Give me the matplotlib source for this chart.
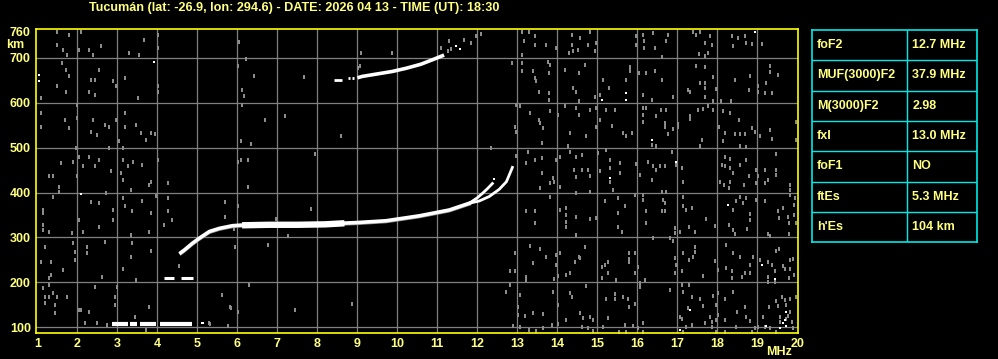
import matplotlib
matplotlib.use('Agg')
import matplotlib.pyplot as plt
import numpy as np

plt.rcParams['font.family'] = ['Liberation Sans', 'DejaVu Sans']

titulo = 'Tucumán (lat: -26.9, lon: 294.6) - DATE: 2026 04 13 - TIME (UT): 18:30'

x_ticks = list(range(1, 21))
y_ticks = [100, 200, 300, 400, 500, 600, 700, 760]

# traza F (ordinaria + extraordinaria)
f_F = [4.59, 4.68, 4.88, 5.05, 5.30, 5.55, 5.88, 6.22, 7.0, 8.0, 8.47, 9.0, 9.72, 10.55, 11.30, 11.80]
h_F = [266, 272, 287, 298, 313, 320, 326, 328, 328, 329, 331, 333, 337, 348, 361, 376]
f_F_core = [6.2, 6.8, 7.5, 8.2, 8.6]
h_F_core = [327, 328, 328, 329, 331]
f_F_x = [11.80, 12.05, 12.30, 12.55, 12.73, 12.82, 12.88]
h_F_x = [376, 381, 391, 407, 424, 443, 456]
f_F_o = [11.80, 12.00, 12.13, 12.25, 12.38]
h_F_o = [376, 388, 398, 408, 420]

# segundo salto 2F
f_2F = [9.05, 9.13, 9.47, 9.88, 10.22, 10.59, 10.88, 11.13]
h_2F = [657, 659, 664, 670, 677, 686, 696, 705]
tramos_2F = [(8.43, 8.62), (8.76, 8.82), (8.87, 8.93)]
h_tramos_2F = [652, 655, 655]

# Es y 2Es
tramos_Es = [(2.87, 3.27), (3.32, 3.49), (3.57, 3.96), (4.07, 4.86)]
h_Es = 106
tramos_2Es = [(4.17, 4.41), (4.59, 4.90)]
h_2Es = 210

# tabla de parametros
tabla_nombres = ['foF2', 'MUF(3000)F2', 'M(3000)F2', 'fxI', 'foF1', 'ftEs', "h'Es"]
tabla_valores = ['12.7 MHz', '37.9 MHz', '2.98', '13.0 MHz', 'NO', '5.3 MHz', '104 km']

# ruido (ecos dispersos) en (MHz, km)
ruido_gris = [
    (1.48, 759), (1.78, 752), (1.48, 730), (1.63, 717), (1.73, 707), (1.62, 689), (1.72, 674),
    (1.80, 659), (1.48, 637), (1.72, 625), (2.05, 718), (2.28, 718), (2.38, 707), (2.58, 726),
    (2.08, 759), (2.55, 674), (2.34, 651), (2.45, 651), (2.30, 625), (2.45, 618), (3.18, 655),
    (2.97, 637), (2.88, 648), (3.55, 707), (3.30, 711), (3.68, 741), (4.03, 752), (4.03, 722),
    (4.03, 637), (4.03, 625), (3.53, 610), (1.08, 610), (1.08, 577), (1.08, 547), (1.70, 562),
    (1.78, 544), (1.98, 596), (1.98, 566), (2.38, 562), (2.34, 536), (2.48, 529), (2.68, 551),
    (2.78, 547), (2.97, 562), (3.18, 577), (3.18, 547), (3.48, 551), (3.59, 532), (3.72, 517),
    (3.84, 532), (3.95, 531), (3.03, 514), (1.97, 499), (2.05, 480), (2.28, 480), (1.59, 465),
    (1.88, 469), (2.13, 458), (2.45, 459), (2.53, 473), (2.78, 499), (3.15, 499), (3.15, 473),
    (3.26, 459), (3.40, 469), (3.63, 462), (4.03, 473), (1.30, 436), (1.38, 436), (1.53, 413),
    (1.98, 436), (2.85, 447), (3.10, 443), (3.13, 428), (3.80, 417), (3.84, 424), (4.28, 421),
    (3.98, 393), (3.34, 406), (2.72, 398), (1.55, 401), (1.38, 391), (1.13, 361), (1.13, 355),
    (2.34, 378), (2.55, 376), (2.88, 361), (3.13, 387), (3.18, 369), (3.38, 358), (3.63, 380),
    (3.84, 354), (4.28, 387), (4.28, 358), (4.38, 339), (4.18, 328), (5.70, 378), (5.70, 346),
    (5.92, 318), (1.13, 328), (1.13, 317), (1.30, 311), (1.87, 309), (2.05, 339), (2.13, 311),
    (2.55, 324), (2.88, 339), (3.33, 305), (3.80, 311), (1.88, 287), (2.23, 279), (2.23, 265),
    (1.95, 268), (1.20, 279), (2.68, 289), (3.38, 287), (3.34, 257), (3.84, 270), (1.10, 244),
    (1.33, 244), (1.63, 227), (1.95, 250), (1.33, 216), (1.30, 209), (2.62, 212), (3.13, 230),
    (3.48, 204), (4.55, 235), (1.13, 186), (1.28, 194), (1.18, 168), (1.28, 168), (1.18, 153),
    (1.38, 175), (1.50, 168), (1.73, 168), (1.43, 149), (1.43, 131), (2.10, 138), (2.43, 190),
    (2.98, 190), (2.93, 168), (2.93, 149), (2.30, 134), (2.48, 108), (2.18, 108), (2.05, 138),
    (3.80, 144), (3.45, 123), (2.75, 105), (3.72, 93), (5.63, 172), (5.84, 143), (5.78, 102),
    (5.30, 108), (5.82, 144), (6.03, 134), (7.44, 138), (8.88, 151), (5.33, 107), (5.78, 103),
    (6.78, 283), (6.29, 194), (7.28, 302), (5.94, 279),
    (6.05, 735), (6.23, 698), (6.03, 683), (6.43, 660), (6.13, 629), (6.18, 616), (6.13, 596),
    (6.69, 562), (7.19, 571), (7.68, 657), (9.09, 712), (9.88, 712), (9.08, 683), (9.03, 677),
    (8.59, 526), (6.09, 514), (6.34, 509), (6.09, 473), (6.28, 473), (6.03, 469), (7.94, 486),
    (6.28, 413), (6.03, 369), (7.84, 363), (6.98, 340), (12.34, 499), (11.30, 739), (11.68, 741),
    (11.84, 733), (11.98, 748), (12.09, 754), (11.09, 722), (11.26, 715), (11.34, 720),
    (13.13, 759), (13.30, 759), (13.17, 737), (13.44, 730), (13.73, 730), (13.13, 707),
    (13.44, 748), (13.98, 722), (14.38, 752), (14.57, 744), (14.38, 730), (14.83, 759),
    (14.78, 730), (14.98, 733), (14.94, 715), (14.40, 715), (14.30, 712), (14.53, 717),
    (12.88, 689), (13.13, 689), (13.13, 670), (13.40, 670), (13.78, 692), (13.82, 685),
    (13.80, 666), (13.44, 655), (13.48, 648), (13.55, 625), (13.80, 622), (13.80, 607),
    (14.19, 674), (14.55, 666), (14.69, 685), (14.40, 633), (14.48, 625), (14.55, 603),
    (14.94, 614), (15.07, 618), (15.15, 651), (15.30, 633), (15.73, 651), (15.83, 681),
    (15.83, 670), (16.05, 666), (16.22, 666), (16.15, 618), (15.98, 748), (15.98, 730),
    (16.15, 752), (16.17, 737), (16.17, 722), (12.98, 596), (13.08, 593), (13.33, 577),
    (13.55, 562), (13.57, 555), (13.65, 544), (12.94, 547), (12.98, 536), (13.83, 581),
    (14.03, 573), (14.19, 592), (14.48, 588), (14.55, 573), (14.82, 584), (14.98, 588),
    (15.23, 584), (15.44, 584), (15.08, 562), (14.98, 547), (15.38, 549), (15.65, 532),
    (15.73, 526), (15.88, 532), (16.15, 588), (16.15, 573), (16.23, 588), (16.15, 558),
    (13.63, 510), (13.28, 491), (13.23, 465), (13.44, 473), (13.63, 477), (13.63, 443),
    (13.90, 432), (13.83, 421), (14.08, 479), (13.97, 473), (14.08, 413), (14.28, 503),
    (14.32, 491), (14.48, 480), (14.42, 451), (14.48, 434), (14.63, 484), (14.63, 451),
    (14.78, 451), (14.82, 436), (14.32, 532), (14.73, 526), (15.03, 488), (15.07, 447),
    (15.23, 495), (15.33, 473), (15.33, 454), (15.33, 424), (15.58, 465), (15.58, 443),
    (15.40, 406), (15.98, 464), (16.08, 439), (16.28, 469), (12.98, 482), (13.92, 424),
    (13.58, 410), (14.83, 402), (14.48, 398), (13.83, 391), (13.23, 358), (13.44, 358),
    (13.44, 333), (14.08, 361), (14.23, 365), (14.23, 350), (14.23, 335), (14.23, 324),
    (14.48, 346), (14.48, 305), (14.83, 340), (14.98, 343), (15.20, 382), (15.53, 387),
    (15.53, 355), (15.53, 324), (15.63, 311), (15.69, 369), (15.94, 395), (16.15, 395),
    (16.15, 384), (16.23, 358), (16.23, 331), (12.94, 266), (13.33, 281), (13.58, 273),
    (13.73, 257), (13.98, 260), (14.08, 264), (13.22, 212), (13.40, 242), (12.94, 226),
    (12.82, 226), (13.23, 205), (13.98, 238), (14.03, 214), (13.92, 206), (14.23, 216),
    (14.32, 220), (14.44, 246), (14.55, 257), (14.69, 278), (14.57, 253), (15.11, 233),
    (15.19, 238), (15.28, 246), (15.28, 220), (15.13, 209), (15.48, 205), (15.80, 264),
    (15.80, 251), (15.80, 244), (15.94, 264), (15.94, 220), (16.03, 233), (16.19, 205),
    (16.08, 198), (12.82, 194), (12.73, 177), (13.08, 171), (13.90, 177), (14.03, 149),
    (14.32, 175), (14.73, 192), (14.36, 168), (15.23, 162), (15.44, 162), (15.78, 162),
    (15.44, 174), (15.65, 168), (15.80, 145), (15.94, 151), (16.07, 190), (13.03, 145),
    (13.03, 127), (13.19, 125), (13.40, 132), (13.65, 129), (13.86, 105), (14.03, 107),
    (14.23, 116), (14.57, 132), (14.65, 119), (14.82, 123), (14.90, 116), (15.28, 119),
    (15.69, 105), (15.90, 102), (16.15, 108), (12.90, 102), (13.08, 101), (13.30, 93),
    (13.48, 92), (13.65, 97), (14.61, 101), (14.78, 97), (14.90, 92), (15.15, 101),
    (15.55, 90), (15.73, 90), (16.03, 97), (16.15, 90),
    (16.40, 756), (16.78, 752), (16.73, 737), (16.44, 722), (16.61, 703), (17.40, 759),
    (17.48, 752), (17.58, 759), (17.83, 748), (17.69, 733), (17.86, 730), (17.78, 711),
    (17.55, 709), (17.69, 705), (18.38, 748), (18.53, 744), (18.69, 748), (18.73, 733),
    (18.88, 732), (19.13, 732), (18.40, 726), (16.44, 670), (16.36, 607), (16.61, 651),
    (16.90, 614), (17.28, 628), (17.32, 625), (17.58, 645), (17.69, 644), (17.69, 633),
    (17.69, 614), (17.48, 683), (17.69, 680), (17.90, 657), (17.98, 631), (18.09, 603),
    (18.34, 603), (18.44, 651), (18.83, 660), (18.79, 629), (19.03, 638), (19.03, 625),
    (19.19, 622), (19.33, 683), (19.33, 668), (19.23, 644), (19.36, 623), (19.53, 663),
    (16.48, 571), (16.59, 584), (16.73, 584), (16.69, 555), (16.69, 547), (16.78, 531),
    (16.90, 541), (17.03, 545), (17.03, 553), (17.32, 571), (17.32, 564), (17.53, 584),
    (17.65, 586), (17.78, 593), (17.90, 603), (17.90, 583), (17.57, 503), (17.63, 517),
    (18.15, 581), (18.32, 577), (18.05, 547), (18.19, 532), (18.15, 514), (18.44, 531),
    (18.55, 562), (18.58, 531), (18.69, 531), (18.58, 503), (18.73, 501), (18.88, 544),
    (18.94, 534), (19.07, 526), (19.33, 540), (19.36, 519), (19.98, 558), (19.98, 517),
    (16.38, 506), (16.47, 503), (16.86, 491), (16.40, 458), (16.48, 450), (16.57, 459),
    (16.69, 459), (16.98, 462), (17.11, 454), (17.15, 424), (18.19, 480), (18.33, 474),
    (18.19, 458), (18.32, 454), (18.40, 443), (18.11, 462), (18.57, 462), (18.73, 473),
    (18.67, 417), (18.80, 437), (18.97, 451), (19.03, 436), (18.98, 421), (19.19, 451),
    (19.19, 421), (19.28, 428), (19.48, 486), (19.48, 451), (19.48, 439), (16.38, 428),
    (16.61, 402), (16.73, 402), (16.65, 384), (16.69, 376), (16.69, 358), (16.61, 358),
    (17.15, 391), (17.15, 369), (17.38, 365), (17.23, 361), (18.07, 424), (18.17, 417),
    (18.32, 424), (18.30, 410), (18.48, 380), (18.57, 391), (18.65, 376), (18.73, 387),
    (18.83, 352), (18.98, 384), (19.19, 380), (18.40, 361), (19.53, 358), (19.55, 343),
    (19.65, 365), (19.78, 346), (19.80, 331), (19.83, 417), (19.83, 406), (19.83, 395),
    (19.94, 387), (19.92, 372), (19.92, 350), (19.98, 331), (16.94, 320), (16.94, 309),
    (16.82, 298), (16.90, 291), (17.07, 311), (17.30, 324), (17.44, 313), (17.73, 340),
    (17.94, 326), (18.30, 328), (18.40, 317), (18.44, 307), (18.75, 318), (18.82, 339),
    (19.28, 307), (19.33, 304), (19.80, 307), (16.40, 298), (17.15, 266), (17.44, 278),
    (17.44, 268), (17.30, 250), (17.40, 256), (16.94, 253), (16.98, 238), (16.94, 220),
    (17.13, 226), (17.65, 214), (17.94, 248), (18.03, 227), (18.23, 231), (18.38, 226),
    (18.38, 209), (18.23, 283), (18.40, 266), (18.57, 257), (18.69, 221), (18.63, 212),
    (18.82, 238), (18.82, 220), (18.90, 257), (19.07, 250), (19.28, 246), (19.48, 270),
    (19.55, 273), (19.36, 238), (19.44, 226), (19.65, 235), (19.69, 229), (19.83, 250),
    (19.82, 229), (19.90, 251), (19.92, 216), (19.80, 209), (19.28, 212), (19.28, 201),
    (19.44, 201), (16.82, 183), (17.11, 194), (17.15, 179), (17.30, 194), (17.38, 168),
    (17.28, 142), (17.57, 162), (17.65, 147), (17.90, 169), (18.03, 175), (17.98, 149),
    (18.19, 162), (18.40, 177), (18.69, 144), (18.50, 134), (18.03, 127), (18.19, 116),
    (18.73, 123), (18.82, 114), (19.15, 123), (19.30, 144), (19.47, 159), (19.53, 147),
    (19.61, 168), (19.69, 160), (19.73, 149), (19.82, 162), (19.97, 168), (17.08, 123),
    (17.13, 117), (17.23, 101), (17.38, 105), (17.15, 90), (17.69, 110), (17.82, 123),
    (17.86, 112), (17.86, 101), (17.98, 116), (17.98, 90), (18.19, 90), (18.48, 101),
    (18.86, 90), (18.94, 97), (19.03, 101), (19.32, 97), (19.19, 101), (19.47, 90),
    (19.58, 123), (19.58, 112), (19.73, 117), (19.78, 125), (19.82, 134), (19.86, 112),
    (19.90, 97),
]
ruido_blanco = [
    (3.93, 692), (1.03, 661), (1.03, 648), (2.08, 396), (5.13, 108), (5.15, 108),
    (11.47, 727), (11.58, 720), (15.13, 607), (15.73, 622), (15.73, 607), (15.33, 432),
    (18.94, 757), (16.38, 517), (16.98, 469), (18.28, 372), (19.13, 238), (19.44, 206),
    (17.33, 138), (17.08, 93), (19.23, 102), (19.73, 134), (19.65, 108), (19.58, 97),
    (19.73, 102), (19.69, 116), (12.43, 430),
]

AMARILLO = '#FFFF80'
BORDE = '#FFFF00'
GRILLA = '#808080'
CIAN = '#00E8E8'


def crear_ionograma():
    fig = plt.figure(figsize=(9.98, 3.59), dpi=100, facecolor='black')
    ax = fig.add_axes([0.0358, 0.0716, 0.7641, 0.8468], facecolor='black')

    ax.set_xlim(0.96, 20.03)
    ax.set_ylim(86, 764)
    ax.set_xticks(x_ticks)
    ax.set_yticks(y_ticks)
    ax.set_xticklabels([str(v) for v in x_ticks])
    ax.set_yticklabels([str(v) for v in y_ticks])
    ax.tick_params(length=0, colors=AMARILLO, labelsize=9, pad=3.5)
    for lab in ax.get_xticklabels() + ax.get_yticklabels():
        lab.set_fontweight('bold')
    for s in ax.spines.values():
        s.set_color(BORDE)
        s.set_linewidth(1.2)

    # grilla
    for xv in x_ticks[1:-1]:
        ax.axvline(xv, color=GRILLA, lw=0.9, zorder=1)
    for yv in y_ticks[:-1]:
        ax.axhline(yv, color=GRILLA, lw=0.9, zorder=1)

    # ruido
    rect = [(-0.25, -0.5), (0.25, -0.5), (0.25, 0.5), (-0.25, 0.5)]
    g = np.array(ruido_gris)
    ax.scatter(g[:, 0], g[:, 1], marker=rect, s=6, color='#8c8c8c', linewidths=0, zorder=2)
    w = np.array(ruido_blanco)
    ax.scatter(w[:, 0], w[:, 1], marker='s', s=2.6, color='white', linewidths=0, zorder=3)

    # Es
    for a, b in tramos_Es:
        ax.plot([a, b], [h_Es, h_Es], color='white', lw=3.0, solid_capstyle='butt', zorder=4)
    for a, b in tramos_2Es:
        ax.plot([a, b], [h_2Es, h_2Es], color='white', lw=2.2, solid_capstyle='butt', zorder=4)

    # traza F
    ax.plot(f_F, np.array(h_F) - 2, color='#8a8a8a', lw=2.4, zorder=3)
    ax.plot(f_F, h_F, color='white', lw=2.6, zorder=4)
    ax.plot(f_F_core, h_F_core, color='white', lw=4.6, zorder=4)
    ax.plot(f_F_x, h_F_x, color='white', lw=2.0, zorder=4)
    ax.plot(f_F_o, h_F_o, color='white', lw=2.0, zorder=4)

    # 2F
    ax.plot(f_2F, h_2F, color='white', lw=2.6, zorder=4)
    for (a, b), hh in zip(tramos_2F, h_tramos_2F):
        ax.plot([a, b], [hh, hh], color='white', lw=2.0, solid_capstyle='butt', zorder=4)

    # textos
    fig.text(0.2946, 0.978, titulo, ha='center', va='center', color=AMARILLO,
             fontsize=9.1, fontweight='bold')
    fig.text(0.006, 0.875, 'km', ha='left', va='center', color=AMARILLO,
             fontsize=9, fontweight='bold')
    fig.text(0.781, 0.02, 'MHz', ha='center', va='center', color=AMARILLO,
             fontsize=9, fontweight='bold')

    # tabla de parametros
    tx = fig.add_axes([0.8136, 0.3251, 0.1653, 0.5914], facecolor='black')
    tx.set_xlim(0, 165)
    tx.set_ylim(len(tabla_nombres), 0)
    tx.set_xticks([])
    tx.set_yticks([])
    for s in tx.spines.values():
        s.set_color(CIAN)
        s.set_linewidth(1.2)
    tx.axvline(95, color=CIAN, lw=1.0)
    for i in range(1, len(tabla_nombres)):
        tx.axhline(i, color=CIAN, lw=1.0)
    for i, (nom, val) in enumerate(zip(tabla_nombres, tabla_valores)):
        tx.text(5, i + 0.5, nom, ha='left', va='center', color=AMARILLO,
                fontsize=9, fontweight='bold')
        tx.text(100.5, i + 0.5, val, ha='left', va='center', color=AMARILLO,
                fontsize=9, fontweight='bold')

    plt.savefig('out.png', dpi=100, facecolor='black')
    plt.close()


if __name__ == '__main__':
    crear_ionograma()
